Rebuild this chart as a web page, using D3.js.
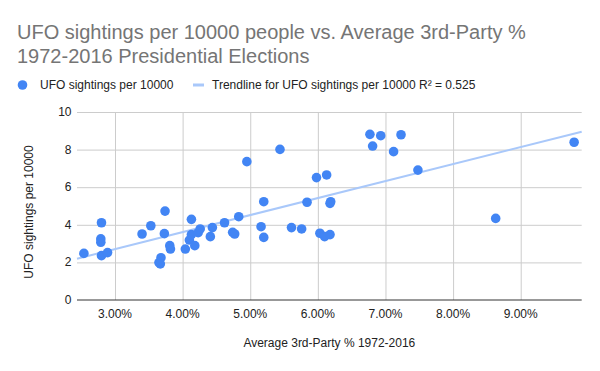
<!DOCTYPE html>
<html>
<head>
<meta charset="utf-8">
<script src="https://cdn.jsdelivr.net/npm/d3@7"></script>
<style>
  body { margin: 0; background: #fff; }
  svg { display: block; font-family: Arial, 'Liberation Sans', sans-serif; }
  .grid line { stroke: #ccc; }
  .grid path { display: none; }
</style>
</head>
<body>
<svg width="600" height="371"></svg>
<script>
// average 3rd-party vote share (%) per state, 1972-2016
const thirdParty = [
  2.54, 2.80, 2.79, 2.79, 2.80, 2.89, 3.40, 3.53, 3.73, 3.74,
  3.68, 3.65, 3.67, 3.81, 3.82, 4.04, 4.13, 4.10, 4.13, 4.18,
  4.23, 4.26, 4.41, 4.44, 4.62, 4.74, 4.77, 4.83, 4.95, 5.16,
  5.20, 5.20, 5.44, 5.61, 5.76, 5.84, 5.98, 6.03, 6.10, 6.13,
  6.18, 6.18, 6.19, 6.77, 6.81, 6.93, 7.12, 7.23, 7.48, 8.63,
  9.79
];
// UFO sightings per 10000 people
const sightings = [
  2.48, 4.11, 3.25, 3.07, 2.36, 2.52, 3.51, 3.95, 3.53, 4.73,
  2.25, 1.99, 1.92, 2.89, 2.71, 2.71, 4.29, 3.19, 3.48, 2.89,
  3.58, 3.78, 3.37, 3.85, 4.11, 3.60, 3.51, 4.43, 7.36, 3.90,
  5.23, 3.33, 8.01, 3.85, 3.78, 5.20, 6.51, 3.55, 3.37, 6.65,
  3.48, 5.14, 5.23, 8.81, 8.19, 8.74, 7.89, 8.79, 6.91, 4.34,
  8.39
];
const xTicks = [3, 4, 5, 6, 7, 8, 9];
const yTicks = [0, 2, 4, 6, 8, 10];
const xDomain = [2.438, 9.902];
const yDomain = [0, 10];
const seriesName = 'UFO sightings per 10000';
const rSquared = '0.525';

const points = thirdParty.map((x, i) => ({x, y: sightings[i]}));

const svg = d3.select('svg');
const plotLeft = 77, plotRight = 581.7, plotTop = 112, plotBottom = 300;

const x = d3.scaleLinear().domain(xDomain).range([plotLeft, plotRight]);
const y = d3.scaleLinear().domain(yDomain).range([plotBottom, plotTop]);

// title
const title = svg.append('text')
  .attr('fill', '#757575')
  .style('font-size', '20px');
title.append('tspan').attr('x', 17).attr('y', 38.5)
  .text('UFO sightings per 10000 people vs. Average 3rd-Party %');
title.append('tspan').attr('x', 17).attr('y', 63)
  .text('1972-2016 Presidential Elections');

// legend
svg.append('circle')
  .attr('cx', 22.5).attr('cy', 85).attr('r', 4.8)
  .attr('fill', '#4285f4');
svg.append('text')
  .attr('x', 40).attr('y', 89.3)
  .attr('fill', '#222')
  .style('font-size', '12px')
  .text(seriesName);
svg.append('line')
  .attr('x1', 193).attr('x2', 204).attr('y1', 85).attr('y2', 85)
  .attr('stroke', '#a9c8fa').attr('stroke-width', 3);
svg.append('text')
  .attr('x', 212).attr('y', 89.3)
  .attr('fill', '#222')
  .style('font-size', '12px')
  .text(`Trendline for ${seriesName} R² = ${rSquared}`);

// gridlines
svg.append('g')
  .attr('class', 'grid')
  .attr('transform', `translate(${plotLeft},0)`)
  .call(d3.axisLeft(y).tickValues(yTicks.filter(d => d > 0))
    .tickSize(-(plotRight - plotLeft)).tickFormat(''));
svg.append('g')
  .attr('class', 'grid')
  .attr('transform', `translate(0,${plotTop})`)
  .call(d3.axisBottom(x).tickValues(xTicks)
    .tickSize(plotBottom - plotTop).tickFormat(''));

// y tick labels
svg.append('g')
  .selectAll('text')
  .data(yTicks)
  .join('text')
  .attr('x', 71.5)
  .attr('y', d => y(d) + 4)
  .attr('text-anchor', 'end')
  .attr('fill', '#222')
  .style('font-size', '12px')
  .text(d => d);

// x tick labels
svg.append('g')
  .selectAll('text')
  .data(xTicks)
  .join('text')
  .attr('x', d => x(d))
  .attr('y', 317.5)
  .attr('text-anchor', 'middle')
  .attr('fill', '#222')
  .style('font-size', '12px')
  .text(d => d.toFixed(2) + '%');

// baseline
svg.append('line')
  .attr('x1', plotLeft).attr('x2', plotRight)
  .attr('y1', y(0)).attr('y2', y(0))
  .attr('stroke', '#333').attr('stroke-width', 1);

// least squares trendline
const mx = d3.mean(points, d => d.x);
const my = d3.mean(points, d => d.y);
const slope = d3.sum(points, d => (d.x - mx) * (d.y - my)) /
  d3.sum(points, d => (d.x - mx) ** 2);
const intercept = my - slope * mx;
const trend = d3.line()
  .x(d => x(d))
  .y(d => y(intercept + slope * d));
svg.append('path')
  .datum(xDomain)
  .attr('d', trend)
  .attr('fill', 'none')
  .attr('stroke', '#a9c8fa')
  .attr('stroke-width', 2);

// dots
svg.append('g')
  .selectAll('circle')
  .data(points)
  .join('circle')
  .attr('cx', d => x(d.x))
  .attr('cy', d => y(d.y))
  .attr('r', 4.8)
  .attr('fill', '#4285f4');

// axis titles
svg.append('text')
  .attr('x', (plotLeft + plotRight) / 2)
  .attr('y', 347.3)
  .attr('text-anchor', 'middle')
  .attr('fill', '#222')
  .style('font-size', '12px')
  .text('Average 3rd-Party % 1972-2016');
svg.append('text')
  .attr('transform', 'translate(32.5,212) rotate(-90)')
  .attr('text-anchor', 'middle')
  .attr('fill', '#222')
  .style('font-size', '12px')
  .text(seriesName);
</script>
</body>
</html>
